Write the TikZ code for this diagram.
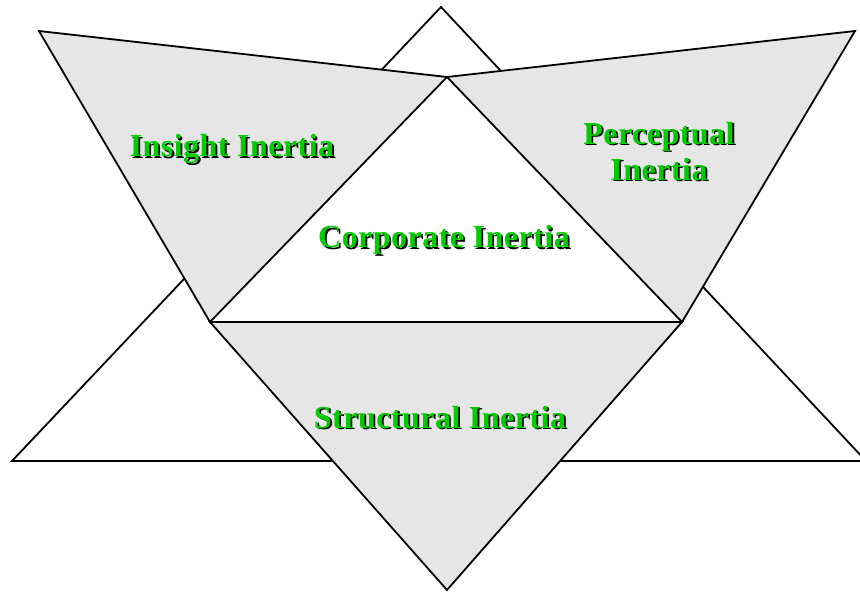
\documentclass[tikz,border=0pt]{standalone}
\usepackage{fontspec}
\setmainfont{Liberation Serif}
\definecolor{inertiagreen}{HTML}{00CC00}
\definecolor{panelgray}{HTML}{E6E6E6}
% green text with a black drop shadow
\newcommand\shadowtext[1]{\leavevmode\rlap{\kern1.8pt\raisebox{-1.8pt}{\textcolor{black}{#1}}}#1}
\tikzset{
  tri/.style={draw=black, line width=1.8pt, line join=miter},
  inertia/.style={font=\bfseries\fontsize{32}{36}\selectfont\addfontfeatures{LetterSpace=1.5}, text=inertiagreen, align=center, inner sep=0pt},
}
\begin{document}
\begin{tikzpicture}[x=1pt,y=-1pt]
  \useasboundingbox (0,0) rectangle (860,592);
  % corners
  \coordinate (bigtop) at (441,7);
  \coordinate (bigleft) at (12,461);
  \coordinate (bigright) at (866,461);
  \coordinate (tlout) at (39,31);
  \coordinate (trout) at (855,31);
  \coordinate (mid) at (447,77);
  \coordinate (inleft) at (210,322);
  \coordinate (inright) at (682,322);
  \coordinate (bottom) at (447,590);
  % triangles
  \draw [tri, fill=white] (bigtop) -- (bigleft) -- (bigright) -- cycle;
  \draw [tri, fill=panelgray] (tlout) -- (mid) -- (inleft) -- cycle;
  \draw [tri, fill=panelgray] (mid) -- (trout) -- (inright) -- cycle;
  \draw [tri, fill=panelgray] (inleft) -- (inright) -- (bottom) -- cycle;
  % labels
  \node [inertia] (insight) at (232,150) {\shadowtext{Insight Inertia}};
  \node [inertia] (perceptual) at (659,152) {\shadowtext{Perceptual}\\\shadowtext{Inertia}};
  \node [inertia] (corporate) at (444,241) {\shadowtext{Corporate Inertia}};
  \node [inertia] (structural) at (440,418) {\shadowtext{Structural Inertia}};
\end{tikzpicture}
\end{document}
